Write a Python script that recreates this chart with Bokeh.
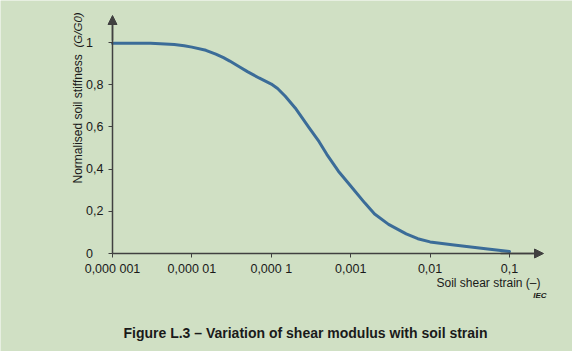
import math
from bokeh.plotting import figure
from bokeh.models import (Range1d, FixedTicker, CustomJSTickFormatter, Label,
                          Arrow, NormalHead)
from bokeh.embed import file_html
from bokeh.resources import INLINE

# ---- data ----
strain = [1e-6, 2e-6, 3e-6, 4e-6, 6e-6, 8e-6, 1e-5, 1.5e-5, 2e-5, 2.5e-5, 3e-5, 4e-5,
          5e-5, 7e-5, 1e-4, 1.2e-4, 1.5e-4, 2e-4, 3e-4, 4e-4, 5e-4, 7e-4, 1e-3,
          1.5e-3, 2e-3, 3e-3, 5e-3, 7e-3, 1e-2, 2e-2, 5e-2, 1e-1]
stiffness = [0.997, 0.997, 0.996, 0.994, 0.99, 0.985, 0.978, 0.963, 0.945, 0.928,
             0.912, 0.884, 0.862, 0.832, 0.803, 0.782, 0.745, 0.69, 0.595, 0.53,
             0.47, 0.39, 0.32, 0.24, 0.187, 0.138, 0.093, 0.07, 0.055, 0.04,
             0.022, 0.009]
x_ticks = [1e-6, 1e-5, 1e-4, 1e-3, 1e-2, 1e-1]
x_tick_labels = ["0,000 001", "0,000 01", "0,000 1", "0,001", "0,01", "0,1"]
y_ticks = [0, 0.2, 0.4, 0.6, 0.8, 1.0]
y_tick_labels = ["0", "0,2", "0,4", "0,6", "0,8", "1"]

BG = "#d0e0c4"
AX = "#404040"
TXT = "#1a1a1a"
FONT = "Liberation Sans"

W, H = 572, 351
X0PX, Y0PX = 112, 253      # pixel position of origin (1e-6, 0)
ARROW_X, ARROW_Y = 543, 15  # arrow tips
DEC = 79.4   # px per decade
UNIT = 211   # px per unit y

def xd(px):
    return 10 ** (-6 + (px - X0PX) / DEC)

def yd(py):
    return (Y0PX - py) / UNIT

p = figure(width=W, height=H, x_axis_type="log",
           x_range=Range1d(xd(0), xd(W)), y_range=Range1d(yd(H), yd(0)),
           output_backend="svg", toolbar_location=None, min_border=0)
p.background_fill_color = BG
p.border_fill_color = BG
p.outline_line_color = None
p.xgrid.visible = False
p.ygrid.visible = False

for ax in (p.xaxis[0], p.yaxis[0]):
    ax.axis_line_color = AX
    ax.axis_line_width = 1.5
    ax.major_tick_line_color = AX
    ax.major_tick_line_width = 1
    ax.major_tick_out = 4
    ax.major_tick_in = 0
    ax.minor_tick_line_color = None
    ax.major_label_text_font = FONT
    ax.major_label_text_font_size = "12.5px"
    ax.major_label_text_color = TXT

p.xaxis[0].fixed_location = 0
p.xaxis[0].bounds = (x_ticks[0], xd(ARROW_X - 4))
p.xaxis[0].ticker = FixedTicker(ticks=x_ticks)
p.xaxis[0].formatter = CustomJSTickFormatter(args=dict(labels=x_tick_labels),
                                             code="return labels[index];")
p.xaxis[0].major_label_standoff = 4

p.yaxis[0].fixed_location = x_ticks[0]
p.yaxis[0].bounds = (0, yd(ARROW_Y + 4))
p.yaxis[0].ticker = FixedTicker(ticks=y_ticks)
p.yaxis[0].formatter = CustomJSTickFormatter(
    args=dict(labels=y_tick_labels),
    code="var s = labels[index]; return s.length == 1 ? s + '\u2008\u2007' : s;")
p.yaxis[0].major_label_standoff = 5

# arrow heads
p.add_layout(Arrow(end=NormalHead(size=9, fill_color=AX, line_color=AX),
                   x_start=x_ticks[0], y_start=yd(40), x_end=x_ticks[0], y_end=yd(ARROW_Y),
                   line_color=AX, line_width=1.5))
p.add_layout(Arrow(end=NormalHead(size=9, fill_color=AX, line_color=AX),
                   x_start=xd(500), y_start=0, x_end=xd(ARROW_X), y_end=0,
                   line_color=AX, line_width=1.5))

p.line(strain, stiffness, line_color="#3b6c98", line_width=3,
       line_join="round", line_cap="round")

# texts (canvas pixel units, top-left origin)
def lab(x, y, text, **kw):
    p.add_layout(Label(x=x, y=y, x_units="canvas", y_units="canvas", text=text,
                       text_font=FONT, text_color=TXT, **kw))

lab(77, 183, "Normalised soil stiffness", angle=math.pi / 2, text_align="left",
    text_baseline="middle", text_font_size="12px")
lab(77, 47, "(G/G0)", angle=math.pi / 2, text_align="left",
    text_baseline="middle", text_font_size="11.5px", text_font_style="italic")
lab(540, 282, "Soil shear strain (\u2013)", text_align="right",
    text_baseline="middle", text_font_size="12px")
lab(546, 295, "IEC", text_align="right", text_baseline="middle",
    text_font_size="8px", text_font_style="bold italic")
lab(305, 332, "Figure L.3 \u2013 Variation of shear modulus with soil strain",
    text_align="center", text_baseline="middle", text_font_size="14px",
    text_font_style="bold")

open("out.html", "w").write(file_html(p, INLINE))
